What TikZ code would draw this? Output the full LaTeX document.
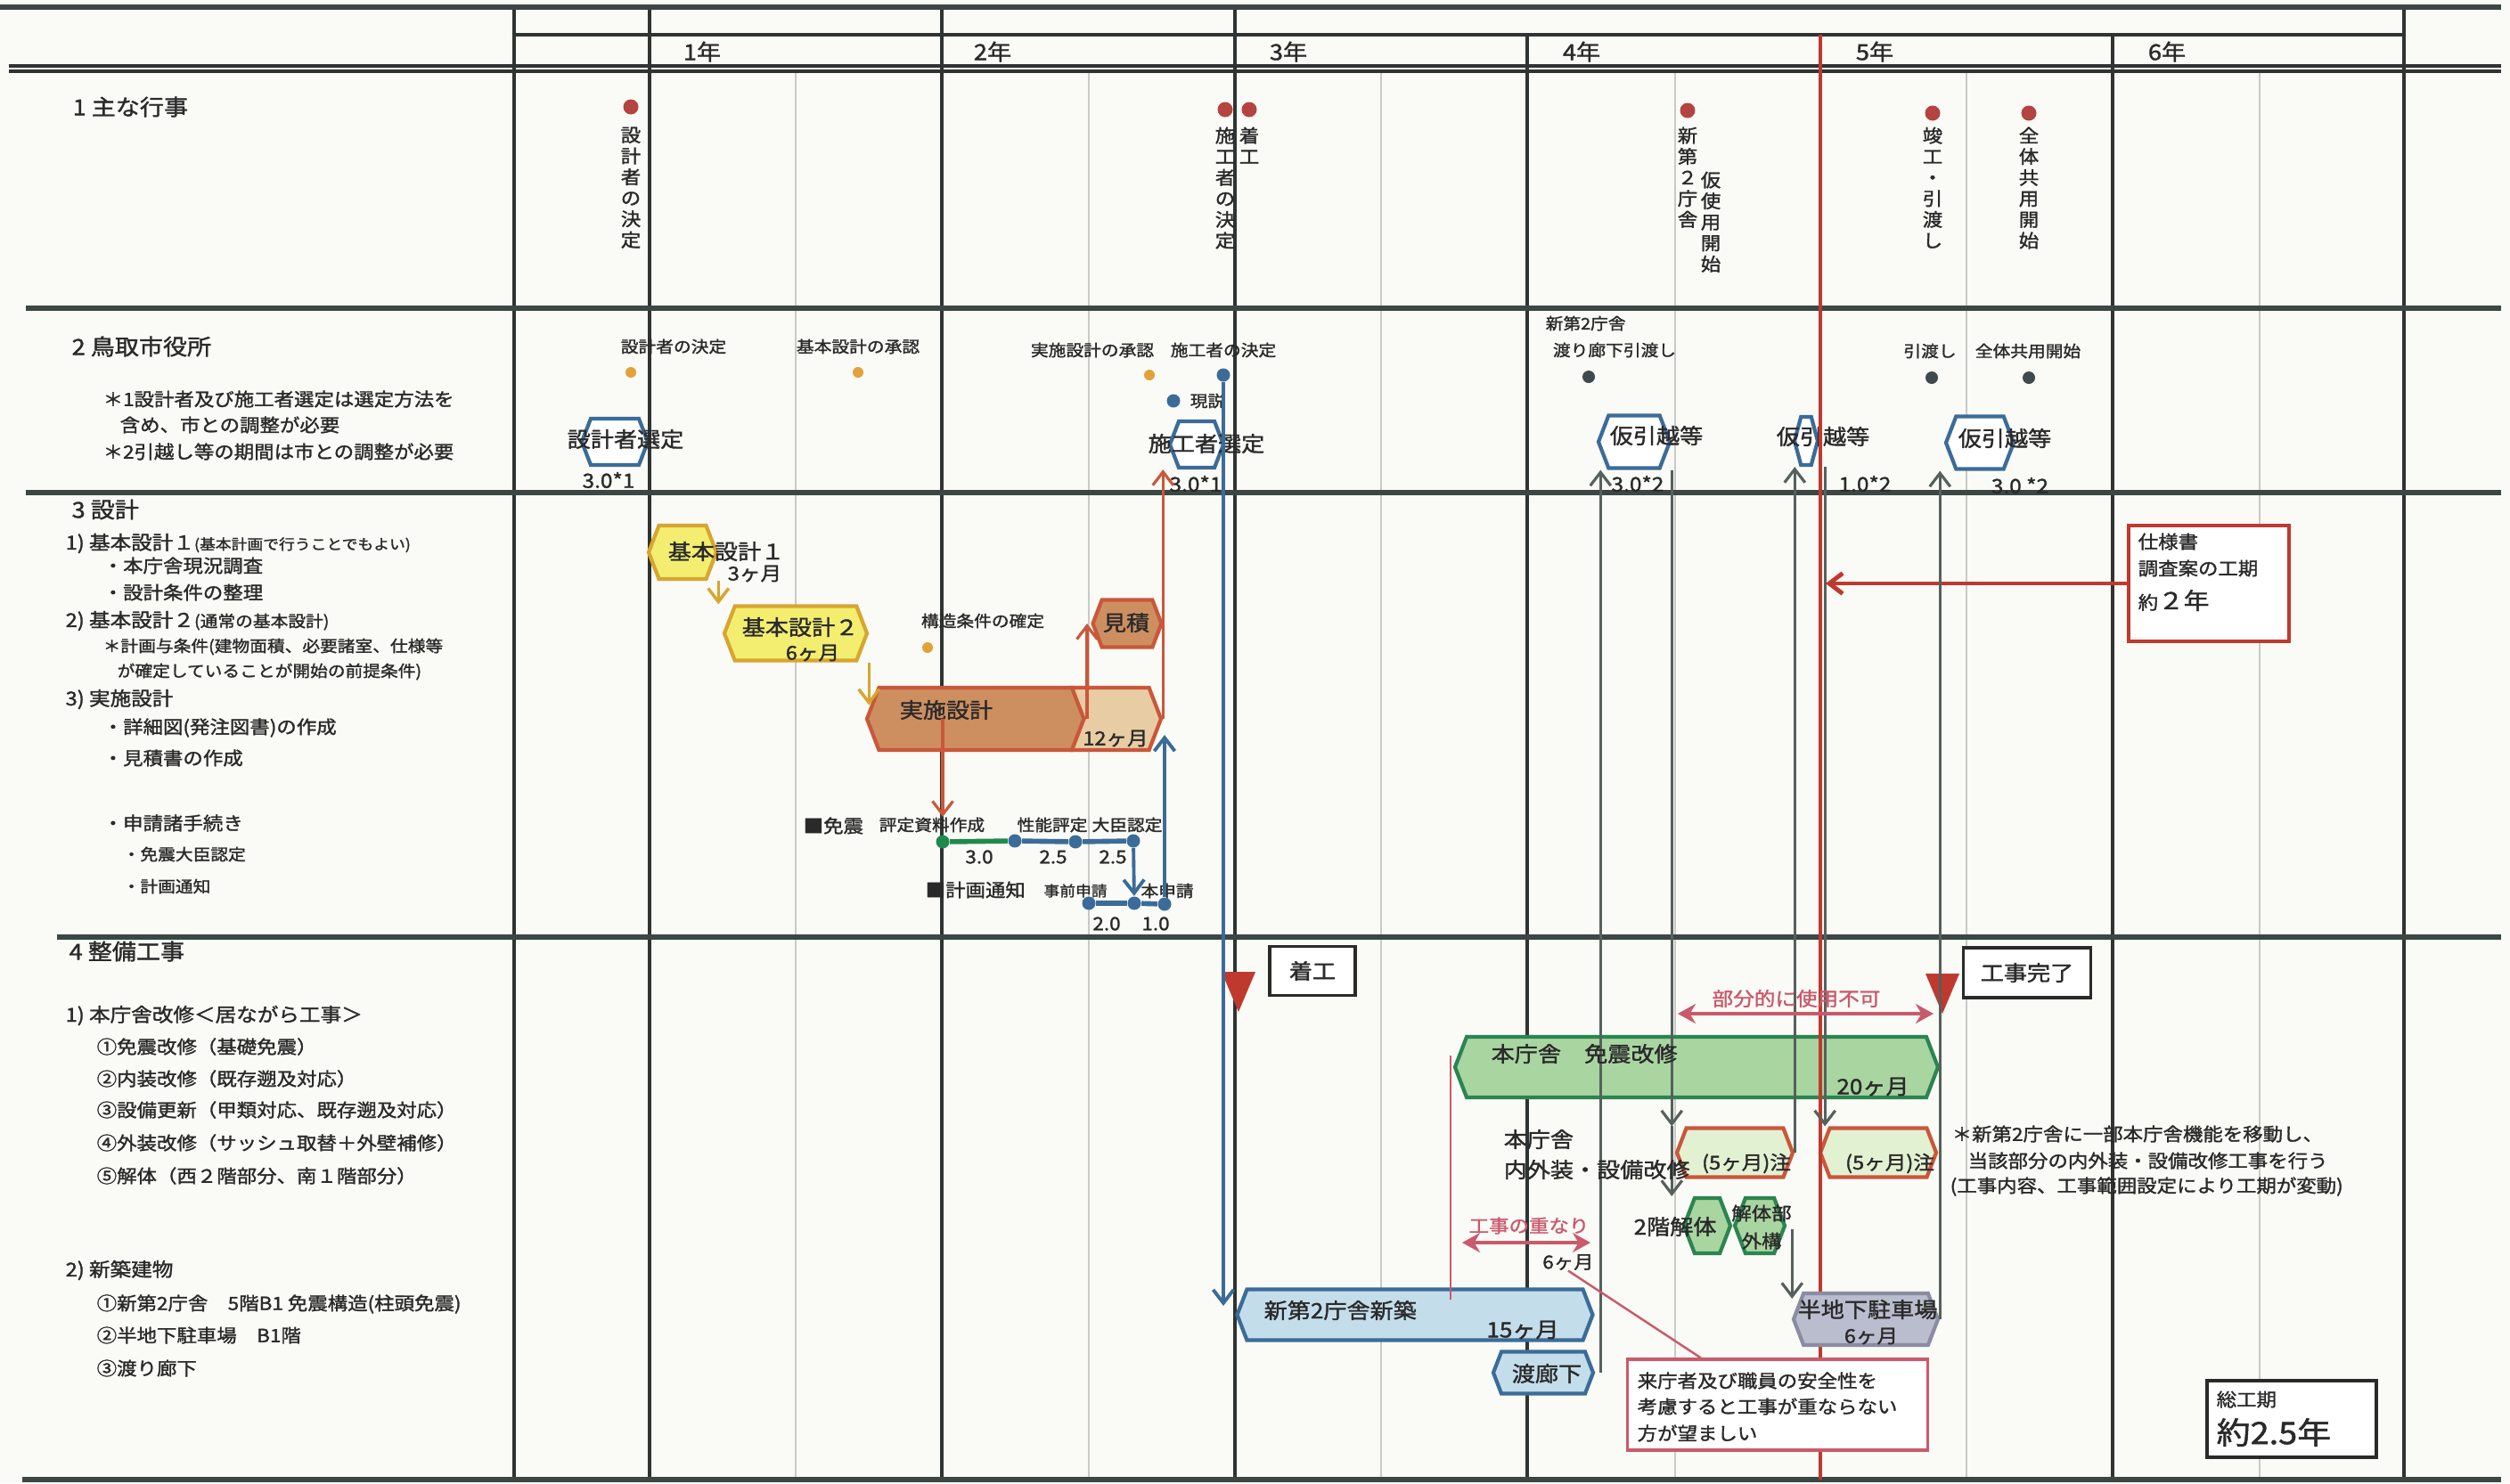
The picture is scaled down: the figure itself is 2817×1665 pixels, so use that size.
\documentclass[tikz,border=0pt]{standalone}
\usepackage{fontspec}
\setmainfont{Noto Sans CJK JP}[FakeStretch=1.1, FakeBold=1.5]
\usepackage{tikz}
\usetikzlibrary{shapes.symbols,arrows.meta,positioning,calc}

\definecolor{paper}{HTML}{FAFAF6}
\definecolor{secgray}{HTML}{3B4743}
\definecolor{yrgray}{HTML}{2F3331}
\definecolor{thingray}{HTML}{C8CAC6}
\definecolor{inkgray}{HTML}{2A2A2A}
\definecolor{evred}{HTML}{B4443F}
\definecolor{evgold}{HTML}{E2A23A}
\definecolor{evdark}{HTML}{3E4A4E}
\definecolor{planblue}{HTML}{3B6C99}
\definecolor{yelfill}{HTML}{F3EE70}
\definecolor{yeldraw}{HTML}{D7A630}
\definecolor{brnfill}{HTML}{CD8F60}
\definecolor{brndraw}{HTML}{CA573A}
\definecolor{tanfill}{HTML}{E8CCA4}
\definecolor{grnfill}{HTML}{A9D5A1}
\definecolor{grndraw}{HTML}{2B8550}
\definecolor{ltgrn}{HTML}{E3F1D3}
\definecolor{redline}{HTML}{C0392F}
\definecolor{pinkred}{HTML}{C95A6C}
\definecolor{blufill}{HTML}{C4DDEA}
\definecolor{gryfill}{HTML}{BABDCE}
\definecolor{grydraw}{HTML}{8A8DA1}
\definecolor{arrgray}{HTML}{56605C}
\definecolor{dotgreen}{HTML}{1F8A4C}

\newcommand{\ftitle}{\fontsize{7.0}{8.2}\selectfont}
\newcommand{\fitem}{\fontsize{5.8}{6.8}\selectfont}
\newcommand{\fsmall}{\fontsize{5.1}{6.1}\selectfont}
\newcommand{\ftiny}{\fontsize{4.6}{5.5}\selectfont}
\newcommand{\fhex}{\fontsize{6.75}{8}\selectfont}
\newcommand{\fmid}{\fontsize{6.1}{7.2}\selectfont}
\newcommand{\fnum}{\fontsize{6.3}{7.4}\selectfont}
\newcommand{\fvert}{\fontsize{5.8}{6.7}\selectfont}
\newcommand{\fbig}{\fontsize{9.8}{11.5}\selectfont}

\tikzset{
  secline/.style={draw=secgray, line width=1.5pt},
  yrline/.style={draw=yrgray, line width=0.9pt},
  halfline/.style={draw=thingray, line width=0.35pt},
  vtxt/.style={anchor=north, align=center, font=\fvert},
  hexbox/.style={signal, signal to=east and west, signal pointer angle=138, inner sep=0pt, line width=1.2pt},
  hexsize/.style 2 args={minimum width=#1*0.01cm, minimum height=#2*0.01cm},
  hexplan/.style={hexbox, draw=planblue, fill=white},
  hexyel/.style={hexbox, draw=yeldraw, fill=yelfill},
  hexbrn/.style={hexbox, draw=brndraw, fill=brnfill},
  hexgrn/.style={hexbox, draw=grndraw, fill=grnfill},
  hexred/.style={hexbox, draw=brndraw, fill=ltgrn},
  hexblu/.style={hexbox, draw=planblue, fill=blufill},
  hexgry/.style={hexbox, draw=grydraw, fill=gryfill},
  evdot/.style={circle, fill=evred, minimum size=0.17cm},
  golddot/.style={circle, fill=evgold, minimum size=0.12cm},
  darkdot/.style={circle, fill=evdark, minimum size=0.14cm},
  stepdot/.style={circle, fill=planblue, minimum size=0.15cm},
  markbox/.style={draw=inkgray, line width=0.9pt, fill=white},
  notebox/.style={draw=pinkred, line width=0.9pt, fill=white},
  boxsize/.style 2 args={minimum width=#1*0.01cm, minimum height=#2*0.01cm},
  >={Straight Barb[length=1.5mm,width=2.3mm]},
  goldarr/.style={->, draw=yeldraw, line width=1pt},
  brnarr/.style={->, draw=brndraw, line width=0.9pt},
  bluarr/.style={->, draw=planblue, line width=1.1pt},
  grayarr/.style={->, draw=arrgray, line width=0.9pt},
  pinkarr/.style={{Stealth[length=2mm,width=2.2mm]}-{Stealth[length=2mm,width=2.2mm]}, draw=pinkred, line width=1.1pt},
  pinkline/.style={draw=pinkred, line width=0.7pt},
  specarr/.style={->, draw=redline, line width=1.4pt},
}

\begin{document}
\begin{tikzpicture}[x=0.01cm, y=-0.01cm, every node/.style={inner sep=0pt, text=inkgray, font=\fitem}]
  \useasboundingbox (0,0) rectangle (2817,1665);
  \fill[paper] (0,0) rectangle (2817,1665);

  % grid
  \foreach \x in {893,1222,1550,1880,2207,2536}
    \draw[halfline] (\x,80) -- (\x,1661);
  \foreach \x in {577,729,1057,1386,2698}
    \draw[yrline] (\x,8) -- (\x,1661);
  \foreach \x in {1714,2371}
    \draw[yrline] (\x,39) -- (\x,1661);
  \draw[yrline] (577,39) -- (2698,39);
  \draw[yrline] (10,74) -- (2807,74);
  \draw[yrline] (10,80) -- (2807,80);
  \draw[secline] (0,8) -- (2807,8);
  \foreach \y in {346,553}
    \draw[secline] (29,\y) -- (2807,\y);
  \draw[secline] (64,1052) -- (2807,1052);
  \draw[secline] (25,1661) -- (2807,1661);
  \coordinate (y5) at (2043,39);
  \coordinate (y5b) at (2043,1661);

  \foreach \n/\x in {1/788,2/1114,3/1446,4/1775,5/2104,6/2432}
    \node[font=\ftitle] (yr\n) at (\x,58) {{\n}年};

  % 1 主な行事
  \node[anchor=west, font=\ftitle] (sec1) at (81,120) {1 主な行事};
  \foreach \n/\x/\y in {1/708/120, 2/1375/123, 3/1402/123, 4/1894/124, 5/2169/127, 6/2277/127}
    \node[evdot] (ev\n) at (\x,\y) {};
  \node[vtxt] (ev1t) at (708,142) {設\\計\\者\\の\\決\\定};
  \node[vtxt] (ev2t) at (1375,142) {施\\工\\者\\の\\決\\定};
  \node[vtxt] (ev3t) at (1402,142) {着\\工};
  \node[vtxt] (ev4t) at (1894,142) {新\\第\\２\\庁\\舎};
  \node[vtxt] (ev4u) at (1920,192) {仮\\使\\用\\開\\始};
  \node[vtxt] (ev5t) at (2169,142) {竣\\工\\・\\引\\渡\\し};
  \node[vtxt] (ev6t) at (2277,142) {全\\体\\共\\用\\開\\始};

  % 2 鳥取市役所
  \node[anchor=west, font=\ftitle] (sec2) at (80,389) {2 鳥取市役所};
  \node[anchor=west] (nt1) at (115,448) {＊1設計者及び施工者選定は選定方法を};
  \node[anchor=west] (nt1b) at (134,477) {含め、市との調整が必要};
  \node[anchor=west] (nt2) at (115,507) {＊2引越し等の期間は市との調整が必要};

  \node[font=\fsmall] (ms1) at (756,389) {設計者の決定};
  \node[golddot] (md1) at (708,418) {};
  \node[font=\fsmall] (ms2) at (963,389) {基本設計の承認};
  \node[golddot] (md2) at (963,418) {};
  \node[font=\fsmall] (ms3) at (1226,393) {実施設計の承認};
  \node[golddot] (md3) at (1290,421) {};
  \node[font=\fsmall] (ms4) at (1373,393) {施工者の決定};
  \node[stepdot] (kdot) at (1373,421) {};
  \node[stepdot] (gdot) at (1317,450) {};
  \node[font=\fsmall, anchor=west] (gensetsu) at (1335,450) {現説};
  \node[font=\fsmall, anchor=west] (ms5) at (1734,363) {新第2庁舎};
  \node[font=\fsmall] (ms5b) at (1812,393) {渡り廊下引渡し};
  \node[darkdot] (md5) at (1783,423) {};
  \node[font=\fsmall] (ms6) at (2166,394) {引渡し};
  \node[darkdot] (md6) at (2168,424) {};
  \node[font=\fsmall] (ms7) at (2276,394) {全体共用開始};
  \node[darkdot] (md7) at (2277,424) {};

  \node[hexplan, hexsize={74}{52}] (hxA) at (690,496) {};
  \node[hexplan, hexsize={60}{52}] (hxB) at (1343,499) {};
  \node[hexplan, hexsize={80}{59}] (kari1) at (1834,496) {};
  \node[hexplan, hexsize={26}{54}, signal pointer angle=150] (kari2) at (2027,495) {};
  \node[hexplan, hexsize={76}{59}] (kari3) at (2222,497) {};
  \node[font=\fhex] (hxAt) at (702,493) {設計者選定};
  \node[font=\fnum] (hxAn) at (683,539) {3.0*1};
  \node[font=\fhex] (hxBt) at (1354,498) {施工者選定};
  \node[font=\fnum] (hxBn) at (1342,543) {3.0*1};
  \node[font=\fhex] (kari1t) at (1859,489) {仮引越等};
  \node[font=\fnum] (kari1n) at (1838,543) {3.0*2};
  \node[font=\fhex] (kari2t) at (2046,490) {仮引越等};
  \node[font=\fnum] (kari2n) at (2093,543) {1.0*2};
  \node[font=\fhex] (kari3t) at (2250,492) {仮引越等};
  \node[font=\fnum] (kari3n) at (2267,545) {3.0 *2};

  % 3 設計
  \node[anchor=west, font=\ftitle] (sec3) at (80,572) {3 設計};
  \node[anchor=west, font=\fmid] (s3a) at (73,610) {1) 基本設計１{\ftiny(基本計画で行うことでもよい)}};
  \node[anchor=west] (s3a1) at (115,635) {・本庁舎現況調査};
  \node[anchor=west] (s3a2) at (115,665) {・設計条件の整理};
  \node[anchor=west, font=\fmid] (s3b) at (73,697) {2) 基本設計２{\fsmall(通常の基本設計)}};
  \node[anchor=west, font=\fsmall] (s3b1) at (115,726) {＊計画与条件(建物面積、必要諸室、仕様等};
  \node[anchor=west, font=\fsmall] (s3b2) at (131,754) {が確定していることが開始の前提条件)};
  \node[anchor=west, font=\fmid] (s3c) at (73,785) {3) 実施設計};
  \node[anchor=west] (s3c1) at (115,817) {・詳細図(発注図書)の作成};
  \node[anchor=west] (s3c2) at (115,851) {・見積書の作成};
  \node[anchor=west] (s3d) at (115,924) {・申請諸手続き};
  \node[anchor=west, font=\fsmall] (s3d1) at (137,959) {・免震大臣認定};
  \node[anchor=west, font=\fsmall] (s3d2) at (137,995) {・計画通知};

  \node[hexyel, hexsize={76}{60}] (kihon1) at (766,620) {};
  \node[hexyel, hexsize={160}{61}] (kihon2) at (893,711) {};
  \node[hexbrn, hexsize={244}{70}] (jisshiA) at (1095,807) {};
  \node[hexbox, signal from=west, signal to=east, draw=brndraw, fill=tanfill, hexsize={100}{70}] (jisshiB) at (1253,807) {};
  \node[hexbrn, hexsize={77}{53}] (mitsu) at (1265,700) {};
  \node[font=\fhex] (kihon1t) at (815,619) {基本設計１};
  \node[font=\fmid] (kihon1n) at (847,644) {3ヶ月};
  \node[font=\fhex] (kihon2t) at (898,704) {基本設計２};
  \node[font=\fmid] (kihon2n) at (912,733) {6ヶ月};
  \node[font=\fhex] (jisshit) at (1062,797) {実施設計};
  \node[font=\fmid] (jisshin) at (1252,829) {12ヶ月};
  \node[font=\fhex] (mitsut) at (1264,699) {見積};
  \node[font=\fsmall] (kozo) at (1103,697) {構造条件の確定};
  \node[golddot] (kozod) at (1041,727) {};

  \node[anchor=west] (menq) at (901,927) {■免震};
  \node[font=\fsmall] (hyotei) at (1046,926) {評定資料作成};
  \node[font=\fsmall] (seino) at (1181,926) {性能評定};
  \node[font=\fsmall] (daijin) at (1265,926) {大臣認定};
  \node[circle, fill=dotgreen, minimum size=0.15cm] (d1) at (1058,945) {};
  \node[stepdot] (d2) at (1139,944) {};
  \node[stepdot] (d3) at (1207,945) {};
  \node[stepdot] (d4) at (1272,944) {};
  \node (d1n) at (1099,962) {3.0};
  \node (d2n) at (1182,962) {2.5};
  \node (d3n) at (1249,962) {2.5};
  \node[anchor=west] (keikaku) at (1038,999) {■計画通知};
  \node[font=\ftiny] (jizen) at (1207,1000) {事前申請};
  \node[font=\fsmall] (honsin) at (1310,1000) {本申請};
  \node[stepdot] (d5) at (1222,1014) {};
  \node[stepdot] (d6) at (1273,1014) {};
  \node[stepdot] (d7) at (1307,1015) {};
  \node (d5n) at (1242,1037) {2.0};
  \node (d6n) at (1297,1037) {1.0};

  \node[markbox, draw=redline, boxsize={180}{130}] (spec) at (2479,655) {};
  \node[anchor=west] (spec1) at (2399,608) {仕様書};
  \node[anchor=west] (spec2) at (2399,638) {調査案の工期};
  \node[anchor=west] (spec3) at (2399,674) {約{\fontsize{7.4}{8.6}\selectfont ２年}};

  % 4 整備工事
  \node[anchor=west, font=\ftitle] (sec4) at (77,1068) {4 整備工事};
  \node[anchor=west, font=\fmid] (s4a) at (73,1140) {1) 本庁舎改修＜居ながら工事＞};
  \node[anchor=west] (s4a1) at (108,1175) {①免震改修（基礎免震）};
  \node[anchor=west] (s4a2) at (108,1211) {②内装改修（既存遡及対応）};
  \node[anchor=west] (s4a3) at (108,1246) {③設備更新（甲類対応、既存遡及対応）};
  \node[anchor=west] (s4a4) at (108,1283) {④外装改修（サッシュ取替＋外壁補修）};
  \node[anchor=west] (s4a5) at (108,1320) {⑤解体（西２階部分、南１階部分）};
  \node[anchor=west, font=\fmid] (s4b) at (73,1426) {2) 新築建物};
  \node[anchor=west] (s4b1) at (108,1464) {①新第2庁舎　5階B1 免震構造(柱頭免震)};
  \node[anchor=west] (s4b2) at (108,1499) {②半地下駐車場　B1階};
  \node[anchor=west] (s4b3) at (108,1536) {③渡り廊下};

  \fill[redline] (1371,1091) -- (1409,1091) -- (1390,1136) -- cycle;
  \fill[redline] (2161,1093) -- (2199,1093) -- (2180,1138) -- cycle;
  \node[markbox, boxsize={96}{55}, font=\fhex] (chakko) at (1473,1090) {着工};
  \node[markbox, boxsize={143}{56}, font=\fhex] (kanryo) at (2275,1092) {工事完了};

  \node[hexgrn, hexsize={542}{68}] (menshin) at (1904,1198) {};
  \node[hexred, hexsize={130}{55}] (kaiso1) at (1947,1294) {};
  \node[hexred, hexsize={130}{55}] (kaiso2) at (2108,1294) {};
  \node[hexgrn, hexsize={52}{62}] (kaitai) at (1916,1376) {};
  \node[hexgrn, hexsize={56}{62}] (gaiko) at (1975,1376) {};
  \node[hexblu, hexsize={399}{57}] (shinchiku) at (1588,1476) {};
  \node[hexblu, hexsize={112}{47}] (watari) at (1732,1541) {};

  % 5年 line
  \draw[draw=redline, line width=1.1pt] (y5) -- (y5b);

  \node[hexgry, hexsize={162}{58}] (handika) at (2094,1481) {};
  \node[notebox, boxsize={337}{102}] (note) at (1995,1577) {};
  \node[markbox, boxsize={190}{86}] (total) at (2572,1593) {};

  % connectors
  \draw[goldarr] (kihon1.east |- kihon1.south) -- (kihon1.east |- kihon2.north);
  \draw[goldarr] (kihon2.east |- kihon2.south) -- ++(0,48);
  \draw[brnarr] (jisshiA.center -| d1) -- (d1 |- hyotei.north);
  \coordinate (mt0) at (1220,807);
  \draw[brnarr] (mt0) -- (mt0 |- mitsu.west);
  \draw[brnarr] (jisshiB.east) -- (jisshiB.east |- hxB.south);
  \draw[draw=dotgreen, line width=1.6pt] (d1) -- (d2);
  \draw[draw=planblue, line width=1.6pt] (d2) -- (d3) -- (d4);
  \draw[draw=planblue, line width=1.6pt] (d5) -- (d6) -- (d7);
  \draw[bluarr] (d4) -- (d6);
  \draw[bluarr] (d7) -- ($(d7 |- jisshiB.east)+(0,18)$);
  \draw[bluarr] (kdot) -- ($(kdot |- shinchiku.west)+(0,-10)$);
  \draw[specarr] (spec.west) -- ($(spec.west -| y5)+(6,0)$);

  \draw[grayarr] (watari.east) ++(6,0) coordinate (w0) -- (w0 |- kari1.south);
  \draw[grayarr] (kari1.east |- kari1.south) -- (kari1.east |- kaiso1.north);
  \draw[grayarr] (kari1.east |- kaiso1.north) -- (kari1.east |- kaitai.north);
  \draw[grayarr] (kaiso1.east) -- (kaiso1.east |- kari2.south);
  \draw[grayarr] ($(kari2.east |- kari2.south)+(6,0)$) -- ($(kari2.east |- kaiso2.north)+(6,0)$);
  \draw[grayarr] ($(gaiko.east)+(6,4)$) -- ($(gaiko.east |- handika.north)+(6,8)$);
  \draw[grayarr] (handika.east) -- (handika.east |- kari3.south);

  \coordinate (pa1) at (1883,1138);
  \coordinate (pa2) at (2170,1138);
  \draw[pinkarr] (pa1) -- (pa2);
  \node[font=\fmid, text=pinkred] (bubun) at (2016,1121) {部分的に使用不可};
  \draw[pinkline] ($(menshin.west)+(-3,-13)$) -- ($(menshin.west |- shinchiku.north)+(-3,14)$);
  \coordinate (ov1) at (1641,1395);
  \coordinate (ov2) at (1785,1395);
  \draw[pinkarr] (ov1) -- (ov2);
  \node[text=pinkred] (ovt) at (1716,1376) {工事の重なり};
  \node (ov6) at (1760,1417) {6ヶ月};
  \draw[pinkline] (ov6.south) -- ($(note.north west)+(84,0)$);

  % labels in section 4
  \node[anchor=west, font=\fhex] (menshint) at (1673,1183) {本庁舎　免震改修};
  \node[font=\fhex] (menshinn) at (2102,1220) {20ヶ月};
  \node[anchor=west, font=\fhex] (naiso1) at (1687,1279) {本庁舎};
  \node[anchor=west, font=\fhex] (naiso2) at (1687,1313) {内外装・設備改修};
  \node[font=\fmid] (kaiso1t) at (1960,1306) {(5ヶ月)注};
  \node[font=\fmid] (kaiso2t) at (2121,1306) {(5ヶ月)注};
  \node[font=\fhex] (kaitait) at (1880,1377) {2階解体};
  \node (gaikot) at (1977,1362) {解体部};
  \node (gaikou) at (1977,1393) {外構};
  \node[anchor=west, font=\fhex] (shinchikut) at (1418,1471) {新第2庁舎新築};
  \node[font=\fhex] (shinchikun) at (1709,1493) {15ヶ月};
  \node[font=\fhex] (wataritt) at (1736,1542) {渡廊下};
  \node[font=\fhex] (handikat) at (2096,1470) {半地下駐車場};
  \node[font=\fmid] (handikan) at (2100,1500) {6ヶ月};
  \node[anchor=west] (note1) at (1837,1550) {来庁者及び職員の安全性を};
  \node[anchor=west] (note2) at (1837,1579) {考慮すると工事が重ならない};
  \node[anchor=west] (note3) at (1837,1609) {方が望ましい};
  \node[anchor=west] (fn1) at (2190,1273) {＊新第2庁舎に一部本庁舎機能を移動し、};
  \node[anchor=west] (fn2) at (2208,1303) {当該部分の内外装・設備改修工事を行う};
  \node[anchor=west] (fn3) at (2188,1332) {(工事内容、工事範囲設定により工期が変動)};
  \node[anchor=west] (totalt) at (2487,1571) {総工期};
  \node[anchor=west, font=\fbig] (totaln) at (2487,1608) {約2.5年};
\end{tikzpicture}
\end{document}
